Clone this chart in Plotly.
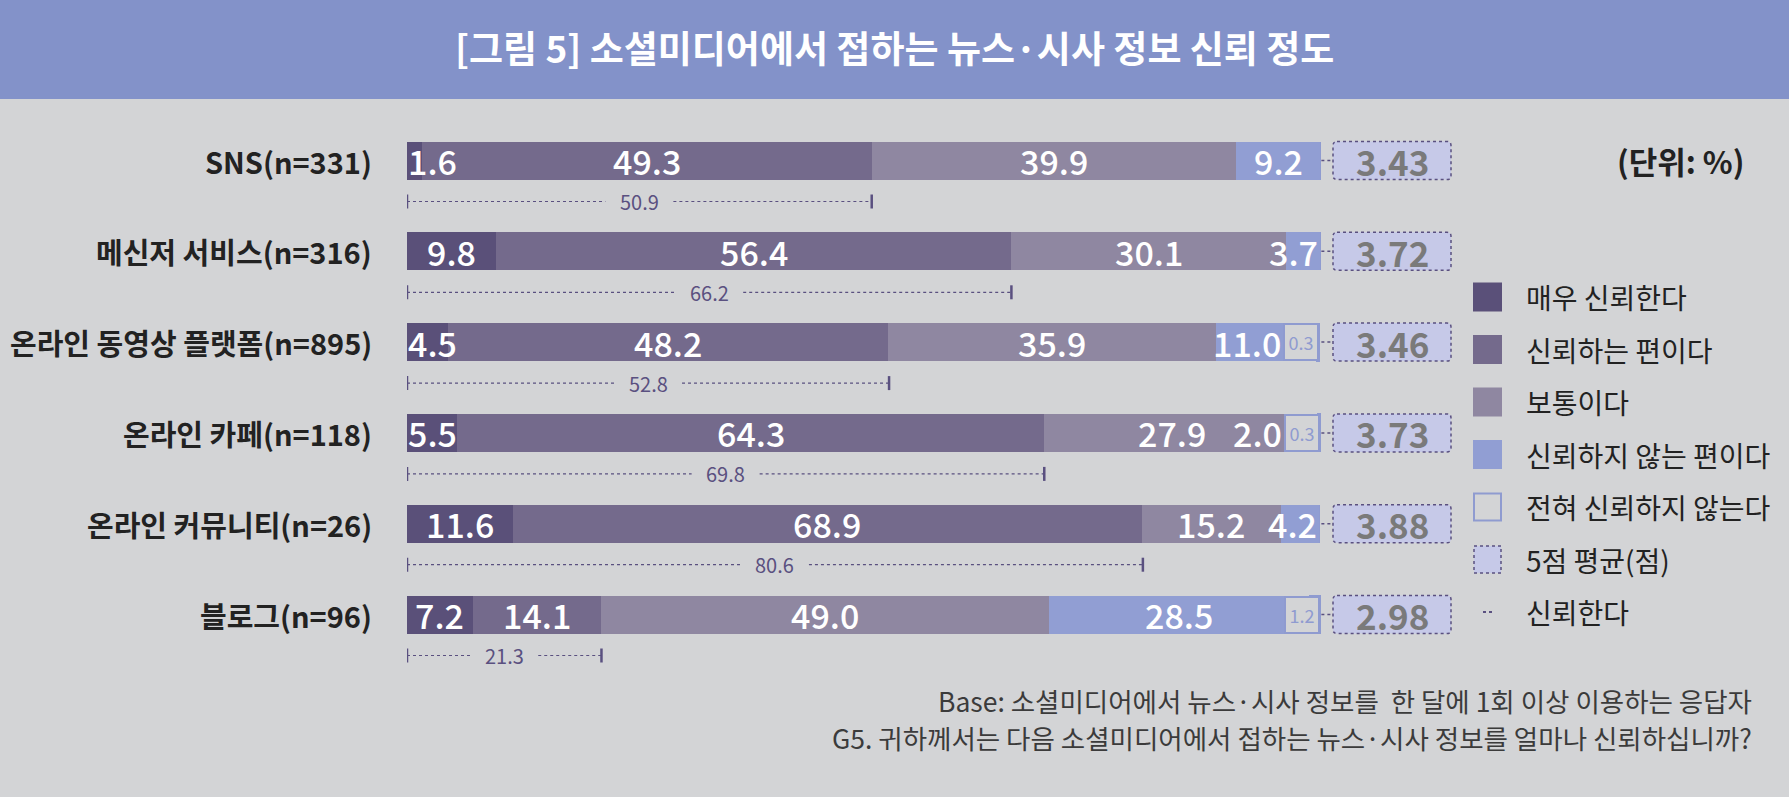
import plotly.graph_objects as go

# Survey data: trust in news/current-affairs info seen on social media (%)
categories = ["SNS(n=331)", "메신저 서비스(n=316)", "온라인 동영상 플랫폼(n=895)",
              "온라인 카페(n=118)", "온라인 커뮤니티(n=26)", "블로그(n=96)"]
very_trust = [1.6, 9.8, 4.5, 5.5, 11.6, 7.2]
trust = [49.3, 56.4, 48.2, 64.3, 68.9, 14.1]
neutral = [39.9, 30.1, 35.9, 27.9, 15.2, 49.0]
distrust = [9.2, 3.7, 11.0, 2.0, 4.2, 28.5]
very_distrust = [None, None, 0.3, 0.3, None, 1.2]
trust_total = [50.9, 66.2, 52.8, 69.8, 80.6, 21.3]
mean_score = [3.43, 3.72, 3.46, 3.73, 3.88, 2.98]

legend_names = ["매우 신뢰한다", "신뢰하는 편이다", "보통이다", "신뢰하지 않는 편이다",
                "전혀 신뢰하지 않는다", "5점 평균(점)", "신뢰한다"]

title = "[그림 5] 소셜미디어에서 접하는 뉴스·시사 정보 신뢰 정도"
unit_text = "(단위: %)"
notes = ["Base: 소셜미디어에서 뉴스·시사 정보를  한 달에 1회 이상 이용하는 응답자",
         "G5. 귀하께서는 다음 소셜미디어에서 접하는 뉴스·시사 정보를 얼마나 신뢰하십니까?"]

# colours
BG = "#d3d4d6"
BAND = "#8392c9"
C_VT = "#5a5079"
C_T = "#746a8c"
C_N = "#8f87a1"
C_D = "#919ed3"
C_BOX = "#8f9bd0"
C_AVG = "#c6c9e8"
C_LINE = "#5a5080"
FONT = "Noto Sans CJK KR"

# page geometry (pixels)
W, H = 1789, 797
PX0 = 407          # bar start
PX_PER = 9.13      # pixels per percent
PX_END = 1460
ROW0, ROW_STEP = 160.5, 90.8
BAR_H = 38 / ROW_STEP

def paper_x(p):
    return p / W

def paper_y(p):
    return 1 - p / H

rows = list(range(len(categories)))
series = [very_trust, trust, neutral, distrust]
colors = [C_VT, C_T, C_N, C_D]

fig = go.Figure()
for vals, col, name in zip(series, colors, legend_names):
    fig.add_trace(go.Bar(
        y=rows, x=vals, orientation="h", name=name, width=BAR_H,
        marker=dict(color=col, line=dict(width=0)), hoverinfo="x+name",
    ))
fig.add_trace(go.Bar(
    y=rows, x=[v if v else 0 for v in very_distrust], orientation="h",
    name=legend_names[4], width=BAR_H,
    marker=dict(color=BG, line=dict(color=C_BOX, width=1)),
))

annotations = []
shapes = []

BOX_W = 36 / PX_PER     # width of the small "전혀" label box
LABEL_SIZE = 34

def text_half(text, size):
    w = sum(0.27 if ch == "." else 0.56 for ch in text) * size
    return w / 2 / PX_PER

def note(x, y, text, size, color, xanchor="center", xref="paper", yref="paper",
         weight="normal", **kw):
    annotations.append(dict(
        x=x, y=y, xref=xref, yref=yref, xanchor=xanchor, yanchor="middle",
        text=text, showarrow=False,
        font=dict(family=FONT, size=size, color=color, weight=weight), **kw))

def rounded_rect(x0, x1, y0, y1, r_px):
    rx = r_px / PX_PER
    ry = r_px / ROW_STEP
    return (f"M {x0 + rx},{y0} L {x1 - rx},{y0} Q {x1},{y0} {x1},{y0 + ry} "
            f"L {x1},{y1 - ry} Q {x1},{y1} {x1 - rx},{y1} L {x0 + rx},{y1} "
            f"Q {x0},{y1} {x0},{y1 - ry} L {x0},{y0 + ry} Q {x0},{y0} {x0 + rx},{y0} Z")

for i in rows:
    seg_vals = [s[i] for s in series]
    row_end = sum(seg_vals) + (very_distrust[i] or 0)
    hi_limit = row_end - BOX_W if very_distrust[i] else row_end
    cum = 0
    for v in seg_vals:
        txt = f"{v:.1f}"
        hw = text_half(txt, LABEL_SIZE)
        cx = cum + v / 2
        cx = max(cx, hw + 0.15)
        cx = min(cx, hi_limit - hw - 0.3)
        note(cx, i, txt, LABEL_SIZE, "white", xref="x", yref="y", weight=500)
        cum += v
    if very_distrust[i]:
        note(row_end, i, f"{very_distrust[i]:.1f}", 18, C_BOX, xanchor="right",
             xref="x", yref="y", width=32, height=34, borderpad=0,
             borderwidth=2, bordercolor=C_BOX, bgcolor=BG)

    # small dotted connector to the average box
    ax0 = (1333 - PX0) / PX_PER
    ax1 = (1451 - PX0) / PX_PER
    shapes.append(dict(type="line", xref="x", yref="y", x0=100.15, x1=ax0 - 0.1,
                       y0=i, y1=i, line=dict(color=C_LINE, width=1.5, dash="dot")))
    # average score box
    shapes.append(dict(type="path", xref="x", yref="y",
                       path=rounded_rect(ax0, ax1, i - BAR_H / 2, i + BAR_H / 2, 4),
                       fillcolor=C_AVG,
                       line=dict(color=C_LINE, width=1.5, dash="dot")))
    note((ax0 + ax1) / 2, i, f"{mean_score[i]:.2f}", 35, "#7a7a7a",
         xref="x", yref="y", weight="bold")

    # "신뢰한다" bracket under each bar
    by = i + 41 / ROW_STEP
    tick = 7 / ROW_STEP
    end = trust_total[i]
    mid = end / 2
    gap = 34 / PX_PER
    for x in (0, end):
        shapes.append(dict(type="line", xref="x", yref="y", x0=x, x1=x,
                           y0=by - tick, y1=by + tick,
                           line=dict(color=C_LINE, width=2.5)))
    for xa, xb in ((0, mid - gap), (mid + gap, end)):
        shapes.append(dict(type="line", xref="x", yref="y", x0=xa, x1=xb,
                           y0=by, y1=by,
                           line=dict(color=C_LINE, width=1.2, dash="dot")))
    note(mid, by, f"{end:.1f}", 20, C_LINE, xref="x", yref="y")

    # category label
    note(paper_x(374), i, f"<b>{categories[i]}</b>", 29, "#222222",
         xanchor="right", yref="y")

# title band
shapes.append(dict(type="rect", xref="paper", yref="paper", x0=0, x1=1,
                   y0=paper_y(99), y1=1, fillcolor=BAND, line=dict(width=0),
                   layer="below"))
note(0.5, paper_y(47), title, 37, "white", weight="bold")

# unit
note(paper_x(1746), paper_y(160), f"<b>{unit_text}</b>", 31, "#222222",
     xanchor="right")

# custom legend
LX0, LX1 = 1473, 1502
LY0, LSTEP = 297, 52.5
for k, name in enumerate(legend_names):
    cy = LY0 + LSTEP * k
    y0, y1 = paper_y(cy + 14.5), paper_y(cy - 14.5)
    if k < 4:
        shapes.append(dict(type="rect", xref="paper", yref="paper",
                           x0=paper_x(LX0), x1=paper_x(LX1), y0=y0, y1=y1,
                           fillcolor=colors[k], line=dict(width=0)))
    elif k == 4:
        shapes.append(dict(type="rect", xref="paper", yref="paper",
                           x0=paper_x(LX0 + 1), x1=paper_x(LX1 - 1),
                           y0=paper_y(cy + 13.5), y1=paper_y(cy - 13.5),
                           fillcolor=BG, line=dict(color=C_BOX, width=2)))
    elif k == 5:
        shapes.append(dict(type="rect", xref="paper", yref="paper",
                           x0=paper_x(LX0 + 1), x1=paper_x(LX1 - 1),
                           y0=paper_y(cy + 13.5), y1=paper_y(cy - 13.5),
                           fillcolor=C_AVG, line=dict(color=C_LINE, width=1.5, dash="dot")))
    else:
        shapes.append(dict(type="line", xref="paper", yref="paper",
                           x0=paper_x(1483), x1=paper_x(1495),
                           y0=paper_y(cy), y1=paper_y(cy),
                           line=dict(color=C_LINE, width=2, dash="dot")))
    note(paper_x(1524), paper_y(cy), name, 28, "#222222", xanchor="left")

# footnotes
for k, line in enumerate(notes):
    note(paper_x(1754), paper_y(700 + 37 * k), line, 26.5, "#3b3b3b",
         xanchor="right")

fig.update_layout(
    width=W, height=H,
    barmode="stack",
    showlegend=False,
    paper_bgcolor=BG,
    plot_bgcolor="rgba(0,0,0,0)",
    margin=dict(l=0, r=0, t=0, b=0),
    xaxis=dict(domain=[paper_x(PX0), paper_x(PX_END)],
               range=[0, (PX_END - PX0) / PX_PER], visible=False, fixedrange=True),
    yaxis=dict(domain=[0, 1],
               range=[(H - ROW0) / ROW_STEP, -ROW0 / ROW_STEP],
               visible=False, fixedrange=True),
    shapes=shapes,
    annotations=annotations,
    font=dict(family=FONT),
)

fig.write_html("out.html", config={"displayModeBar": False},
               post_script="document.body.style.margin='0';")
